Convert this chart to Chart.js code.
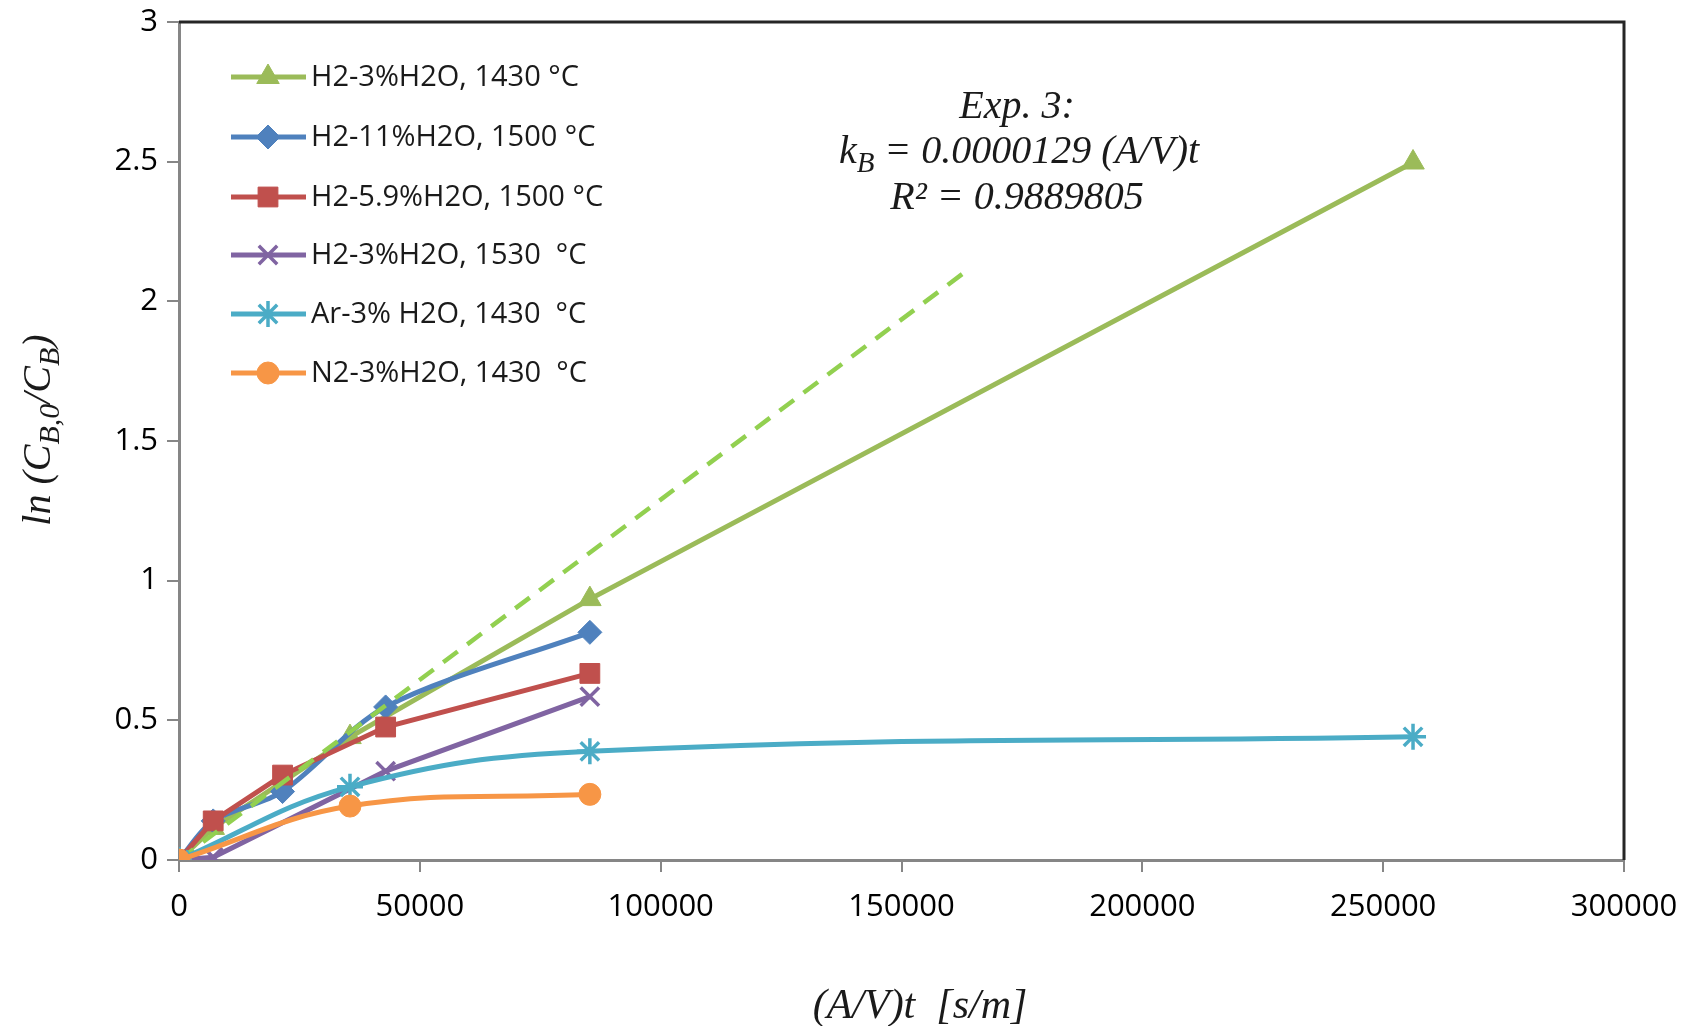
<!DOCTYPE html>
<html>
<head>
<meta charset="utf-8">
<script src="https://cdn.jsdelivr.net/npm/chart.js@4/dist/chart.umd.min.js"></script>
<style>
  html, body { margin: 0; padding: 0; background: #fff; }
  #wrap { width: 1686px; height: 1026px; }
</style>
</head>
<body>
<div id="wrap"><canvas id="kinChart" width="1686" height="1026"></canvas></div>
<script>
// series data: x = (A/V)t [s/m], y = ln(CB,0/CB)
const seriesNames = [
  "H2-3%H2O, 1430 °C",
  "H2-11%H2O, 1500 °C",
  "H2-5.9%H2O, 1500 °C",
  "H2-3%H2O, 1530  °C",
  "Ar-3% H2O, 1430  °C",
  "N2-3%H2O, 1430  °C"
];
const h2_1430_x = [0, 7100, 35500, 85300, 256200];
const h2_1430_y = [0, 0.115, 0.44, 0.934, 2.497];
const h2_11_x = [0, 7100, 21500, 42900, 85300];
const h2_11_y = [0, 0.14, 0.245, 0.548, 0.815];
const h2_59_x = [0, 7100, 21500, 42900, 85300];
const h2_59_y = [0, 0.140, 0.304, 0.476, 0.668];
const h2_1530_x = [0, 7100, 42900, 85300];
const h2_1530_y = [0, 0.01, 0.318, 0.585];
const ar_x = [0, 35500, 85300, 256200];
const ar_y = [0, 0.262, 0.389, 0.441];
const n2_x = [0, 35500, 85300];
const n2_y = [0, 0.193, 0.235];
// linear trend line for Exp. 3
const trendSlope = 0.0000129;
const trendX = [0, 163500];

const colors = ["#9BBB59", "#4F81BD", "#C0504D", "#8064A2", "#4BACC6", "#F79646"];
const markers = ["triangle", "rectRot", "rect", "crossRot", "star", "circle"];
const radii = [13, 12, 14, 13, 13, 11];
const tensions = [0, 0.3, 0, 0, 0.4, 0.4];
const xs = [h2_1430_x, h2_11_x, h2_59_x, h2_1530_x, ar_x, n2_x];
const ys = [h2_1430_y, h2_11_y, h2_59_y, h2_1530_y, ar_y, n2_y];

function pts(x, y) {
  return x.map((v, i) => ({ x: v, y: y[i] }));
}

function markerWidth(i) {
  return (markers[i] === "crossRot" || markers[i] === "star") ? 3.5 : 1;
}

const datasets = seriesNames.map((name, i) => ({
  label: name,
  data: pts(xs[i], ys[i]),
  borderColor: colors[i],
  backgroundColor: colors[i],
  borderWidth: 5,
  pointStyle: markers[i],
  pointRadius: radii[i],
  pointBorderWidth: markerWidth(i),
  pointBorderColor: colors[i],
  pointBackgroundColor: colors[i],
  tension: tensions[i],
  order: 10 - i
}));

datasets.push({
  label: "trend",
  data: trendX.map(v => ({ x: v, y: v * trendSlope })),
  borderColor: "#92D050",
  borderWidth: 4.5,
  borderDash: [18, 12],
  pointRadius: 0,
  order: 6.5
});

const serif = "'Liberation Serif', 'DejaVu Serif', serif";

const decor = {
  id: "decor",
  afterDraw(chart) {
    const ctx = chart.ctx;
    const a = chart.chartArea;
    ctx.save();
    // top and right frame
    ctx.strokeStyle = "#262626";
    ctx.lineWidth = 3;
    ctx.beginPath();
    ctx.moveTo(a.left, a.top);
    ctx.lineTo(a.right, a.top);
    ctx.lineTo(a.right, a.bottom);
    ctx.stroke();

    // legend
    const rowY = [77, 137, 197, 255, 314, 373];
    ctx.textBaseline = "middle";
    ctx.textAlign = "left";
    seriesNames.forEach((name, i) => {
      const y = rowY[i];
      ctx.strokeStyle = colors[i];
      ctx.lineWidth = 5;
      ctx.beginPath();
      ctx.moveTo(231, y);
      ctx.lineTo(306, y);
      ctx.stroke();
      ctx.fillStyle = colors[i];
      ctx.strokeStyle = colors[i];
      ctx.lineWidth = markerWidth(i);
      Chart.helpers.drawPoint(ctx, {
        pointStyle: markers[i],
        radius: radii[i],
        rotation: 0,
        borderWidth: markerWidth(i)
      }, 268, y);
      ctx.font = "29px 'Open Sans'";
      ctx.fillStyle = "#1a1a1a";
      ctx.fillText(name, 311, y + 1);
    });

    // annotation
    ctx.fillStyle = "#1a1a1a";
    ctx.textAlign = "center";
    ctx.textBaseline = "alphabetic";
    drawRich(ctx, [["Exp. 3:", 40, 0]], 1017, 118);
    drawRich(ctx, [["k", 40, 0], ["B", 29, 9], [" = 0.0000129 (A/V)t", 40, 0]], 1019, 163);
    drawRich(ctx, [["R² = 0.9889805", 40, 0]], 1017, 209);

    // x axis title
    drawRich(ctx, [["(A/V)t  [s/m]", 42, 0]], 920, 1018);

    // y axis title (rotated)
    ctx.translate(50, 430);
    ctx.rotate(-Math.PI / 2);
    drawRich(ctx, [["ln (C", 40, 0], ["B,0", 30, 9], ["/C", 40, 0], ["B", 30, 9], [")", 40, 0]], 0, 0);
    ctx.restore();
  }
};

function drawRich(ctx, parts, cx, baseline) {
  let total = 0;
  parts.forEach(p => {
    ctx.font = "italic " + p[1] + "px " + serif;
    total += ctx.measureText(p[0]).width;
  });
  let x = cx - total / 2;
  ctx.textAlign = "left";
  parts.forEach(p => {
    ctx.font = "italic " + p[1] + "px " + serif;
    ctx.fillText(p[0], x, baseline + p[2]);
    x += ctx.measureText(p[0]).width;
  });
  ctx.textAlign = "center";
}

const tickFont = { family: "'Open Sans'", size: 31 };

function noPad(s) {
  s.paddingLeft = 0;
  s.paddingRight = 0;
  s.paddingTop = 0;
  s.paddingBottom = 0;
}

new Chart(document.getElementById("kinChart"), {
  type: "line",
  data: { datasets: datasets },
  options: {
    responsive: false,
    animation: false,
    layout: { padding: { left: 0, top: 22, right: 62, bottom: 0 } },
    plugins: { legend: { display: false }, tooltip: { enabled: false } },
    scales: {
      x: {
        type: "linear",
        min: 0,
        max: 300000,
        ticks: { stepSize: 50000, font: tickFont, color: "#000", padding: 17, maxRotation: 0,
                 callback: v => String(v) },
        grid: { drawOnChartArea: false, drawTicks: true, tickLength: 12, color: "#868686", lineWidth: 2 },
        border: { color: "#868686", width: 3 },
        afterFit: s => { s.height = 166; noPad(s); }
      },
      y: {
        min: 0,
        max: 3,
        ticks: { stepSize: 0.5, font: tickFont, color: "#000", padding: 9,
                 callback: v => String(v) },
        grid: { drawOnChartArea: false, drawTicks: true, tickLength: 12, color: "#868686", lineWidth: 2 },
        border: { color: "#868686", width: 3 },
        afterFit: s => { s.width = 179; noPad(s); }
      }
    }
  },
  plugins: [decor]
});
</script>
</body>
</html>
